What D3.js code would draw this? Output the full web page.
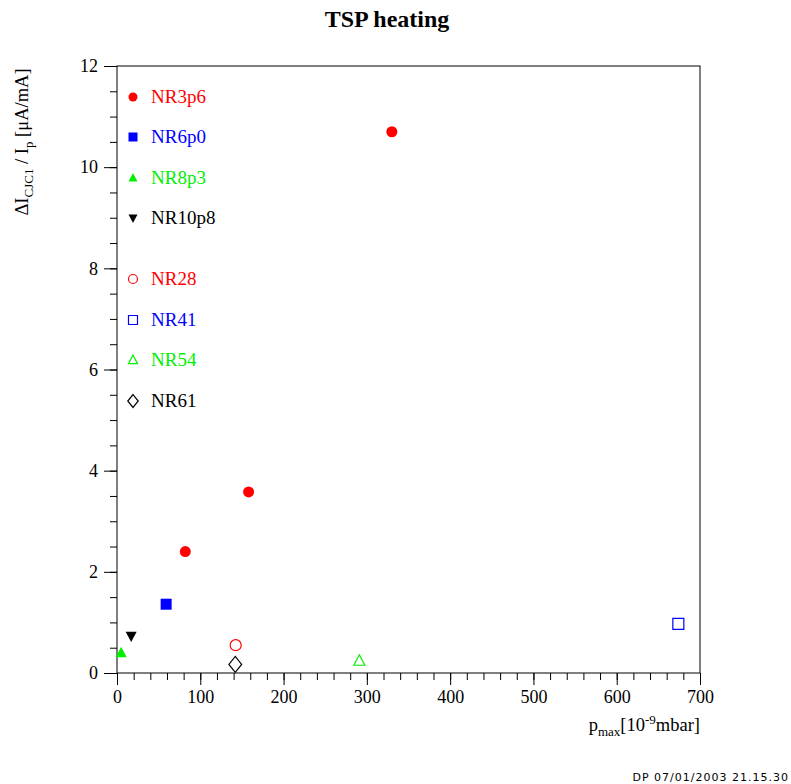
<!DOCTYPE html>
<html>
<head>
<meta charset="utf-8">
<script src="https://cdn.jsdelivr.net/npm/d3@7"></script>
<style>
  body { margin: 0; background: #fff; }
  text { font-family: "Liberation Serif", "Times New Roman", serif; }
  text.stamp { font-family: "DejaVu Sans", sans-serif; letter-spacing: 1px; }
</style>
</head>
<body>
<script>
// series names, colours and marker kinds
const seriesNames = ["NR3p6", "NR6p0", "NR8p3", "NR10p8", "NR28", "NR41", "NR54", "NR61"];
const seriesColors = ["#ff0000", "#0000ff", "#00f000", "#000000", "#ff0000", "#0000ff", "#00f000", "#000000"];
const seriesShapes = ["circle", "square", "triangle", "down", "circle", "square", "triangle", "diamond"];
const seriesFilled = [true, true, true, true, false, false, false, false];

// values: [p_max, dI/Ip]
const nr3p6 = [[82, 2.4], [158, 3.58], [330, 10.7]];
const nr6p0 = [[59, 1.36]];
const nr8p3 = [[5, 0.4]];
const nr10p8 = [[17, 0.73]];
const nr28 = [[142.5, 0.55]];
const nr41 = [[674, 0.97]];
const nr54 = [[291, 0.24]];
const nr61 = [[142, 0.17]];
const seriesData = [nr3p6, nr6p0, nr8p3, nr10p8, nr28, nr41, nr54, nr61];

const xTicks = [0, 100, 200, 300, 400, 500, 600, 700];
const yTicks = [0, 2, 4, 6, 8, 10, 12];

const width = 791, height = 784;
const plotLeft = 117, plotRight = 700, plotTop = 66, plotBottom = 673;

const svg = d3.select("body").append("svg")
    .attr("width", width)
    .attr("height", height);

const x = d3.scaleLinear().domain([0, 700]).range([plotLeft, plotRight]);
const y = d3.scaleLinear().domain([0, 12]).range([plotBottom, plotTop]);

// box
svg.append("rect")
    .attr("x", plotLeft).attr("y", plotTop)
    .attr("width", plotRight - plotLeft).attr("height", plotBottom - plotTop)
    .attr("fill", "none").attr("stroke", "#000").attr("stroke-width", 1);

// axes: major ticks with labels, minor without
const xAxis = svg.append("g").attr("transform", "translate(0," + plotBottom + ")");
xAxis.call(d3.axisBottom(x).tickValues(d3.range(0, 701, 20)).tickSize(7).tickFormat(""));
xAxis.call(g => g.selectAll(".domain").remove());
const xMajor = svg.append("g").attr("transform", "translate(0," + plotBottom + ")");
xMajor.call(d3.axisBottom(x).tickValues(xTicks).tickSize(12).tickPadding(5).tickFormat(d3.format("d")));
xMajor.call(g => g.selectAll(".domain").remove());

const yAxis = svg.append("g").attr("transform", "translate(" + plotLeft + ",0)");
yAxis.call(d3.axisLeft(y).tickValues(d3.range(0, 12.01, 0.5)).tickSize(7).tickFormat(""));
yAxis.call(g => g.selectAll(".domain").remove());
const yMajor = svg.append("g").attr("transform", "translate(" + plotLeft + ",0)");
yMajor.call(d3.axisLeft(y).tickValues(yTicks).tickSize(13).tickPadding(6).tickFormat(d3.format("d")));
yMajor.call(g => g.selectAll(".domain").remove());

svg.selectAll(".tick text")
    .attr("font-size", 18)
    .attr("fill", "#000");
svg.selectAll(".tick line").attr("stroke", "#000");

// marker path builder
function marker(shape, s) {
    const p = d3.path();
    if (shape === "circle") {
        p.arc(0, 0, s / 2, 0, 2 * Math.PI);
    } else if (shape === "square") {
        p.rect(-s / 2, -s / 2, s, s);
    } else if (shape === "triangle") {
        p.moveTo(0, -s * 0.55); p.lineTo(s / 2, s * 0.4); p.lineTo(-s / 2, s * 0.4); p.closePath();
    } else if (shape === "down") {
        p.moveTo(0, s * 0.55); p.lineTo(s / 2, -s * 0.4); p.lineTo(-s / 2, -s * 0.4); p.closePath();
    } else if (shape === "diamond") {
        p.moveTo(0, -s * 0.72); p.lineTo(s * 0.58, 0); p.lineTo(0, s * 0.72); p.lineTo(-s * 0.58, 0); p.closePath();
    }
    return p.toString();
}

function styleMarker(sel, i) {
    sel.attr("fill", seriesFilled[i] ? seriesColors[i] : "none")
        .attr("stroke", seriesColors[i])
        .attr("stroke-width", seriesFilled[i] ? 0 : 1.2);
}

// points
seriesData.forEach((pts, i) => {
    svg.append("g").selectAll("path")
        .data(pts).enter()
        .append("path")
        .attr("transform", d => "translate(" + x(d[0]) + "," + y(d[1]) + ")")
        .attr("d", marker(seriesShapes[i], 11))
        .call(styleMarker, i);
});

// legend
const legendY = [97, 137, 178, 218, 279, 320, 360, 401];
seriesNames.forEach((name, i) => {
    const g = svg.append("g").attr("transform", "translate(133," + legendY[i] + ")");
    g.append("path")
        .attr("d", marker(seriesShapes[i], 9))
        .call(styleMarker, i);
    g.append("text")
        .attr("x", 18).attr("y", 6)
        .attr("font-size", 19)
        .attr("fill", seriesColors[i])
        .text(name);
});

// title
svg.append("text")
    .attr("x", 387).attr("y", 27)
    .attr("text-anchor", "middle")
    .attr("font-size", 24).attr("font-weight", "bold")
    .text("TSP heating");

// y label
const yl = svg.append("text")
    .attr("transform", "translate(28,142) rotate(-90)")
    .attr("text-anchor", "middle")
    .attr("font-size", 18.5);
yl.append("tspan").text("ΔI");
yl.append("tspan").attr("dy", 5).attr("font-size", 13).text("CJC1");
yl.append("tspan").attr("dy", -5).text(" / I");
yl.append("tspan").attr("dy", 5).attr("font-size", 13).text("p");
yl.append("tspan").attr("dy", -5).text(" [μA/mA]");

// x label
const xl = svg.append("text")
    .attr("x", plotRight).attr("y", 731)
    .attr("text-anchor", "end")
    .attr("font-size", 18.5);
xl.append("tspan").text("p");
xl.append("tspan").attr("dy", 5).attr("font-size", 13).text("max");
xl.append("tspan").attr("dy", -5).text("[10");
xl.append("tspan").attr("dy", -7).attr("font-size", 13).text("-9");
xl.append("tspan").attr("dy", 7).text("mbar]");

// footer stamp
svg.append("text")
    .attr("class", "stamp")
    .attr("x", 789).attr("y", 781)
    .attr("text-anchor", "end")
    .attr("font-size", 11)
    .text("DP 07/01/2003 21.15.30");
</script>
</body>
</html>
